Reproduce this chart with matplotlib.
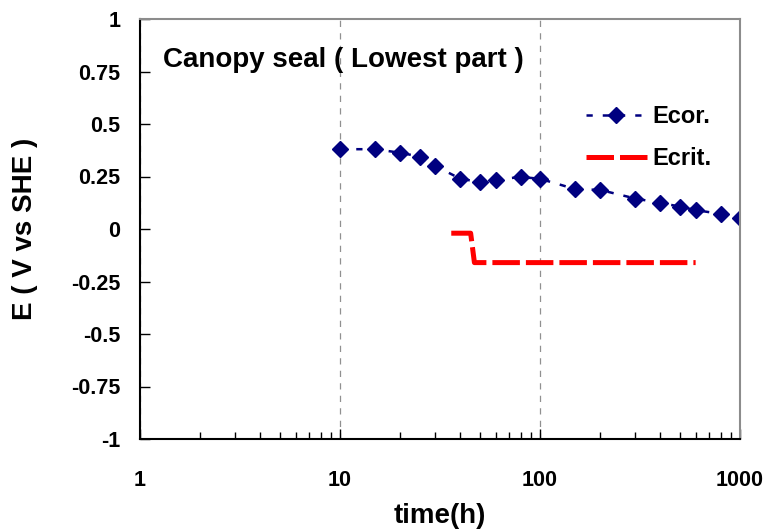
import matplotlib.pyplot as plt
from matplotlib.ticker import FixedLocator, NullFormatter

# Ecor. series (time in hours, potential in V vs SHE)
ecor_time = [10, 15, 20, 25, 30, 40, 50, 60, 80, 100, 150, 200, 300, 400, 500, 600, 800, 1000]
ecor_e = [0.38, 0.38, 0.363, 0.345, 0.30, 0.239, 0.224, 0.234, 0.248, 0.239,
          0.19, 0.186, 0.145, 0.124, 0.107, 0.09, 0.072, 0.052]

# Ecrit. series
ecrit_time = [36, 45, 47, 600]
ecrit_e = [-0.02, -0.02, -0.16, -0.16]

y_ticks = [1, 0.75, 0.5, 0.25, 0, -0.25, -0.5, -0.75, -1]
y_labels = ["1", "0.75", "0.5", "0.25", "0", "-0.25", "-0.5", "-0.75", "-1"]
x_ticks = [1, 10, 100, 1000]
x_labels = ["1", "10", "100", "1000"]

plt.rcParams['font.family'] = ['Liberation Sans', 'DejaVu Sans']
plt.rcParams['font.weight'] = 'bold'

fig = plt.figure(figsize=(7.68, 5.29), dpi=100)
ax = fig.add_axes([140 / 768, 1 - 439 / 529, 600 / 768, 420 / 529])

ax.plot(ecor_time, ecor_e, color='#000080', linestyle=(0, (2.5, 4)), linewidth=1.8,
        marker='D', markersize=8, label='Ecor.')
ax.plot(ecrit_time, ecrit_e, color='#ff0000', linestyle=(0, (5.5, 1.2)), linewidth=3.6,
        label='Ecrit.')

ax.set_xscale('log')
ax.set_xlim(1, 1000)
ax.set_ylim(-1, 1)
ax.set_xticks(x_ticks)
ax.set_xticklabels(x_labels)
ax.xaxis.set_minor_locator(FixedLocator([m * d for d in [1, 10, 100] for m in range(2, 10)]))
ax.xaxis.set_minor_formatter(NullFormatter())
ax.set_yticks(y_ticks)
ax.set_yticklabels(y_labels)

ax.tick_params(axis='both', which='major', direction='in', length=7, width=1,
               labelsize=15.5)
ax.tick_params(axis='y', which='major', pad=14)
ax.tick_params(axis='x', which='major', pad=22)
ax.tick_params(axis='x', which='minor', direction='in', length=5, width=1)
for lab in ax.get_xticklabels() + ax.get_yticklabels():
    lab.set_fontweight('bold')

ax.grid(True, axis='x', which='major', color='#909090', linestyle=(0, (5, 5)), linewidth=0.9)

for s in ['top', 'right']:
    ax.spines[s].set_color('#8c8c8c')
    ax.spines[s].set_linewidth(1.5)
for s in ['left', 'bottom']:
    ax.spines[s].set_color('black')
    ax.spines[s].set_linewidth(1.5)

ax.set_xlabel('time(h)', fontsize=20, fontweight='bold', labelpad=9)
ax.set_ylabel('E ( V vs SHE )', fontsize=20, fontweight='bold', labelpad=24)

ax.text(0.038, 0.903, 'Canopy seal ( Lowest part )', transform=ax.transAxes,
        fontsize=20, fontweight='bold', va='center', ha='left')

leg = ax.legend(loc='upper left', bbox_to_anchor=(0.743, 0.795), frameon=False,
                handlelength=2.6, labelspacing=0.8, handletextpad=0.2,
                borderaxespad=0, borderpad=0,
                prop={'weight': 'bold', 'size': 17})

fig.savefig('out.png', dpi=100)
